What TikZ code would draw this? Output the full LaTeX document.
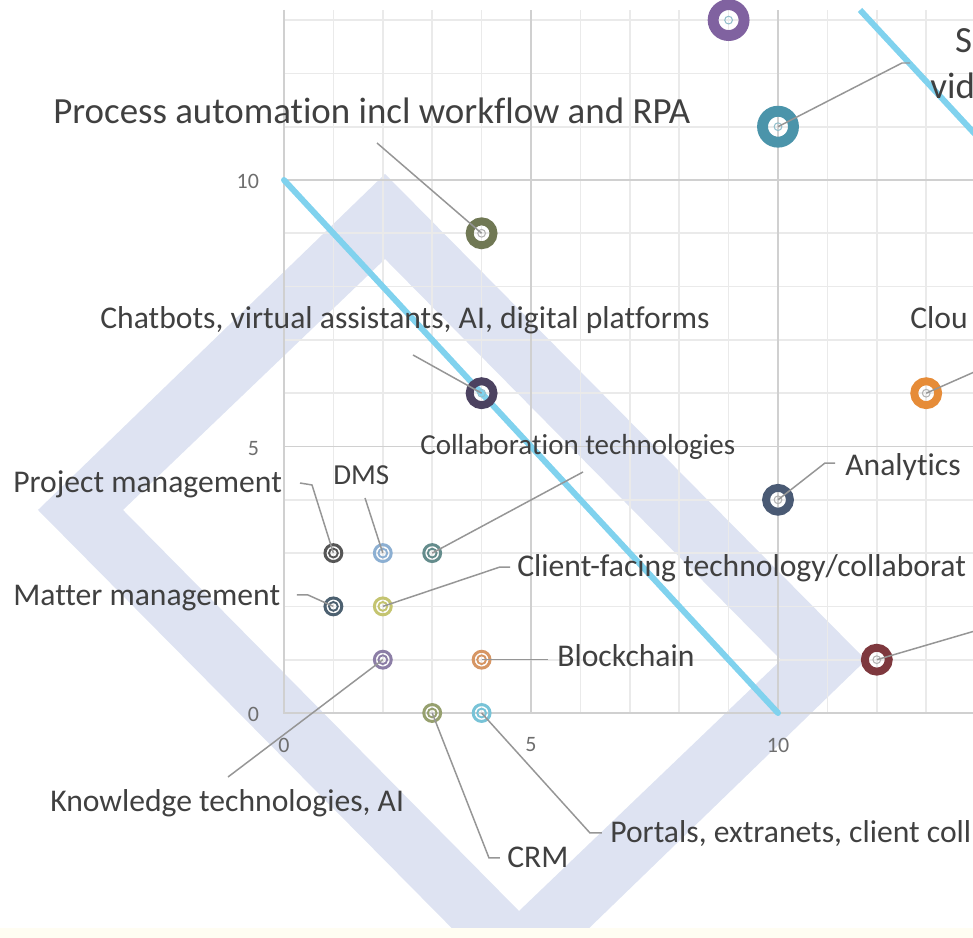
\documentclass[tikz,border=0pt]{standalone}
\usepackage{fontspec}
\setmainfont{Carlito}[Ligatures=NoCommon]
\usetikzlibrary{calc}

\definecolor{wmark}{RGB}{222,227,242}
\definecolor{cream}{RGB}{255,253,242}
\definecolor{gridmin}{RGB}{234,234,234}
\definecolor{gridmaj}{RGB}{208,208,208}
\definecolor{trend}{RGB}{128,210,238}
\definecolor{txt}{RGB}{64,64,64}
\definecolor{tick}{RGB}{110,110,110}
\definecolor{lead}{RGB}{150,150,150}
\definecolor{cPurp}{RGB}{128,98,160}
\definecolor{cTeal}{RGB}{75,148,170}
\definecolor{cOlive}{RGB}{112,120,84}
\definecolor{cChat}{RGB}{76,66,96}
\definecolor{cOrange}{RGB}{230,140,56}
\definecolor{cAnal}{RGB}{74,90,116}
\definecolor{cMaroon}{RGB}{126,56,62}
\definecolor{cPM}{RGB}{86,86,86}
\definecolor{cDMS}{RGB}{140,175,210}
\definecolor{cCollab}{RGB}{100,140,140}
\definecolor{cMatter}{RGB}{76,96,112}
\definecolor{cClient}{RGB}{196,196,112}
\definecolor{cKnow}{RGB}{140,126,166}
\definecolor{cBlock}{RGB}{214,150,100}
\definecolor{cCRM}{RGB}{150,160,110}
\definecolor{cPortal}{RGB}{120,195,215}

\tikzset{
	bub/.style={circle, draw=#1, line width=4.5pt, minimum size=13.6pt, inner sep=0pt},
	bigbub/.style={circle, draw=#1, line width=6.2pt, minimum size=17.6pt, inner sep=0pt},
	smallbub/.style={circle, draw=#1, line width=1.7pt, minimum size=9.6pt, inner sep=0pt},
	leader/.style={draw=lead, line width=0.85pt},
	lbl/.style={text=txt, font=\fontsize{18}{20}\selectfont, inner sep=0pt, anchor=base west},
	tck/.style={text=tick, font=\fontsize{12.5}{14}\selectfont, inner sep=0pt}
}

\begin{document}
\begin{tikzpicture}[x=0.988cm, y=1.066cm]
			%%%%% START %%%%%
			\useasboundingbox (-5.749,-4.203) rectangle (13.947,13.377);
			\clip (-5.749,-4.203) rectangle (13.947,13.377);
			
			% watermark
			\fill[wmark, even odd rule] (2.045,10.113) -- (11.781,0.994) -- (4.757,-5.310) -- (-4.980,3.809) -- cycle
				(2.045,8.518) -- (10.061,0.994) -- (4.757,-3.715) -- (-3.259,3.809) -- cycle;
			\fill[cream] (-5.8,-4.034) rectangle (14,-4.25);
			
			% grid
			\foreach \i in {1,...,13}
				\draw[gridmin, line width=1pt] (\i,0) -- (\i,13.19);
			\foreach \j in {1,...,13}
				\draw[gridmin, line width=1pt] (0,\j) -- (14,\j);
			\foreach \i in {5,10} {
				\draw[gridmaj, line width=1.1pt] (\i,0) -- (\i,13.19);
				\draw[gridmaj, line width=1.1pt] (0,\i) -- (14,\i);
			}
			\draw[gridmaj, line width=1.1pt] (0,13.19) -- (0,0) -- (14,0);
			
			% ticks
			\foreach \v in {0,5,10} {
				\node[tck, anchor=east] at (-0.5,\v-0.03) {\v};
				\node[tck] at (\v,-0.6) {\v};
			}
			
			% trend lines
			\draw[trend, line width=3.4pt, line cap=round] (0,10) -- (10,0);
			\draw[trend, line width=3.4pt] (11.66,13.19) -- (14.1,10.75);
			
			% bubbles
			\node[bigbub=cPurp] (topb) at (9,13) {};
			\node[bigbub=cTeal] (vid) at (10,11) {};
			\node[bub=cOlive] (proc) at (4,9) {};
			\node[bub=cChat] (chat) at (4,6) {};
			\node[bub=cOrange] (cloud) at (13,6) {};
			\node[bub=cAnal] (anal) at (10,4) {};
			\node[bub=cMaroon] (mar) at (12,1) {};
			\node[smallbub=cPM] (pm) at (1,3) {};
			\node[smallbub=cDMS] (dms) at (2,3) {};
			\node[smallbub=cCollab] (collab) at (3,3) {};
			\node[smallbub=cMatter] (matter) at (1,2) {};
			\node[smallbub=cClient] (client) at (2,2) {};
			\node[smallbub=cKnow] (know) at (2,1) {};
			\node[smallbub=cBlock] (block) at (4,1) {};
			\node[smallbub=cCRM] (crm) at (3,0) {};
			\node[smallbub=cPortal] (portal) at (4,0) {};
			
			\foreach \n/\c in {pm/cPM,dms/cDMS,collab/cCollab,matter/cMatter,client/cClient,know/cKnow,block/cBlock,crm/cCRM,portal/cPortal}
				\draw[\c, line width=1.1pt] (\n.center) circle (2.5pt);
			\foreach \n/\c in {topb/cTeal,vid/cTeal,proc/gray,chat/cTeal,cloud/gray,anal/gray,mar/gray}
				\draw[\c!60, line width=0.6pt] (\n.center) circle (2.2pt);
			
			% leader ends
			\coordinate (proc-e) at (1.883,10.694);
			\coordinate (chat-e) at (2.611,6.717);
			\coordinate (collab-e) at (6.053,4.522);
			\coordinate (dms-e) at (1.640,4.034);
			\coordinate (pm-e) at (0.567,4.278);
			\coordinate (pm-f) at (0.324,4.315);
			\coordinate (matter-e) at (0.486,2.214);
			\coordinate (matter-f) at (0.263,2.214);
			\coordinate (client-e) at (4.372,2.739);
			\coordinate (client-f) at (4.575,2.739);
			\coordinate (block-e) at (5.344,1.0);
			\coordinate (know-e) at (-1.134,-1.201);
			\coordinate (crm-e) at (4.150,-2.720);
			\coordinate (crm-f) at (4.372,-2.720);
			\coordinate (portal-e) at (6.194,-2.251);
			\coordinate (portal-f) at (6.437,-2.251);
			\coordinate (anal-e) at (10.951,4.690);
			\coordinate (anal-f) at (11.154,4.690);
			\coordinate (vid-e) at (12.51,12.195);
			\coordinate (vid-f) at (12.672,12.195);
			\coordinate (cloud-e) at (14.1,6.45);
			\coordinate (mar-e) at (14.1,1.57);
			
			% leaders
			\draw[leader] (proc.center) -- (proc-e);
			\draw[leader] (chat.center) -- (chat-e);
			\draw[leader] (collab.center) -- (collab-e);
			\draw[leader] (dms.center) -- (dms-e);
			\draw[leader] (pm.center) -- (pm-e) -- (pm-f);
			\draw[leader] (matter.center) -- (matter-e) -- (matter-f);
			\draw[leader] (client.center) -- (client-e) -- (client-f);
			\draw[leader] (block.center) -- (block-e);
			\draw[leader] (know.center) -- (know-e);
			\draw[leader] (crm.center) -- (crm-e) -- (crm-f);
			\draw[leader] (portal.center) -- (portal-e) -- (portal-f);
			\draw[leader] (anal.center) -- (anal-e) -- (anal-f);
			\draw[leader] (vid.center) -- (vid-e) -- (vid-f);
			\draw[leader] (cloud.center) -- (cloud-e);
			\draw[leader] (mar.center) -- (mar-e);
			
			% labels
			\node[lbl, font=\fontsize{21}{24}\selectfont] (proc-l) at (-4.676,11.051) {Process automation incl workflow and RPA};
			\node[lbl] (chat-l) at (-3.725,7.223) {Chatbots, virtual assistants, AI, digital platforms};
			\node[lbl, font=\fontsize{16.5}{19}\selectfont] (collab-l) at (2.753,4.841) {Collaboration technologies};
			\node[lbl, font=\fontsize{16.5}{19}\selectfont] (dms-l) at (0.992,4.296) {DMS};
			\node[lbl] (pm-l) at (-5.486,4.128) {Project management};
			\node[lbl] (matter-l) at (-5.486,2.026) {Matter management};
			\node[lbl] (anal-l) at (11.356,4.465) {Analytics};
			\node[lbl] (client-l) at (4.717,2.552) {Client-facing technology/collaborat};
			\node[lbl] (block-l) at (5.526,0.863) {Blockchain};
			\node[lbl] (know-l) at (-4.737,-1.839) {Knowledge technologies, AI};
			\node[lbl] (crm-l) at (4.514,-2.908) {CRM};
			\node[lbl] (portal-l) at (6.599,-2.439) {Portals, extranets, client coll};
			\node[lbl] (cloud-l) at (12.672,7.223) {Clou};
			\node[lbl, font=\fontsize{21}{24}\selectfont] (vid-l1) at (13.58,12.383) {S};
			\node[lbl, font=\fontsize{21}{24}\selectfont] (vid-l2) at (13.077,11.538) {vid};
			
			%%%%% END %%%%%
\end{tikzpicture}
\end{document}
